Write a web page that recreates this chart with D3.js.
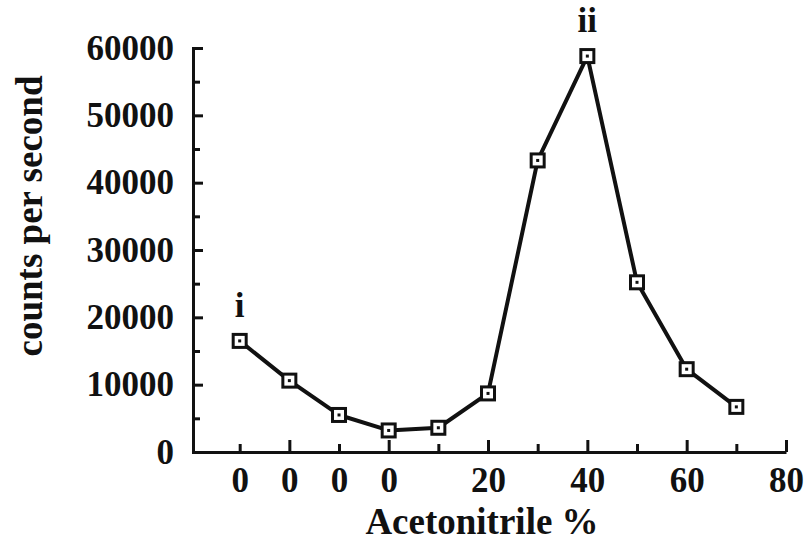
<!DOCTYPE html>
<html>
<head>
<meta charset="utf-8">
<script src="https://cdn.jsdelivr.net/npm/d3@7"></script>
<style>
	body { margin: 0 ; background: #fff ; }
	svg text { font-family: "Liberation Serif", "Times New Roman", serif ; font-weight: bold ; fill: #111 ; }
</style>
</head>
<body>
<svg id="chart" width="811" height="544"></svg>
<script>

// acetonitrile steps, as placed along the axis
const xValues = [ -30, -20, -10, 0, 10, 20, 30, 40, 50, 60, 70 ] ;
const counts = [ 16500, 10600, 5500, 3200, 3600, 8700, 43300, 58800, 25200, 12300, 6700 ] ;

// x axis labels (printed as in the figure) and tick positions
const xLabelValues = [ -30, -20, -10, 0, 20, 40, 60, 80 ] ;
const xLabels = [ "0", "0", "0", "0", "20", "40", "60", "80" ] ;
const xMajorTicks = [ -20, 0, 20, 40, 60, 80 ] ;
const xMinorTicks = [ -30, -10, 10, 30, 50, 70 ] ;

const yMajorTicks = [ 0, 10000, 20000, 30000, 40000, 50000, 60000 ] ;
const yMinorTicks = [ 5000, 15000, 25000, 35000, 45000, 55000 ] ;

// peak annotations
const notes = [ { x: -30, y: 16500, text: "i" }, { x: 40, y: 58800, text: "ii" } ] ;


const svg = d3.select( "#chart" ) ;

const x = d3.scaleLinear().domain( [ -39.4, 80 ] ).range( [ 193, 786 ] ) ;
const y = d3.scaleLinear().domain( [ 0, 60000 ] ).range( [ 452, 48 ] ) ;

function styleAxis( g ) {
	g.selectAll( "path, line" )
		.attr( "stroke", "#111" )
		.attr( "stroke-width", 3 ) ;
	g.selectAll( "text" )
		.attr( "fill", "#111" )
		.style( "font-size", "35px" ) ;
}

/*
	x axis: ticks pointing up into the plot, labels as a separate pass
*/
svg.append( "g" )
	.attr( "transform", "translate(0,452)" )
	.call( d3.axisBottom( x ).tickValues( xMajorTicks ).tickSize( -12 ).tickSizeOuter( 0 ).tickFormat( "" ) )
	.call( styleAxis ) ;

svg.append( "g" )
	.attr( "transform", "translate(0,452)" )
	.call( d3.axisBottom( x ).tickValues( xMinorTicks ).tickSize( -8 ).tickFormat( "" ) )
	.call( g => g.select( ".domain" ).remove() )
	.call( styleAxis ) ;

svg.append( "g" )
	.attr( "transform", "translate(0,452)" )
	.call( d3.axisBottom( x ).tickValues( xLabelValues ).tickSize( 0 ).tickPadding( 15 )
		.tickFormat( function(d,i) { return xLabels[i] ; } ) )
	.call( g => g.select( ".domain" ).remove() )
	.call( styleAxis ) ;

/*
	y axis: ticks pointing right, labels to the left
*/
svg.append( "g" )
	.attr( "transform", "translate(193,0)" )
	.call( d3.axisLeft( y ).tickValues( yMajorTicks ).tickSize( -10 ).tickSizeOuter( -10 ).tickPadding( 19 )
		.tickFormat( d3.format( "d" ) ) )
	.call( styleAxis ) ;

svg.append( "g" )
	.attr( "transform", "translate(193,0)" )
	.call( d3.axisLeft( y ).tickValues( yMinorTicks ).tickSize( -7 ).tickFormat( "" ) )
	.call( g => g.select( ".domain" ).remove() )
	.call( styleAxis ) ;

// axis titles
svg.append( "text" )
	.attr( "x", 482 )
	.attr( "y", 534 )
	.attr( "text-anchor", "middle" )
	.style( "font-size", "37px" )
	.text( "Acetonitrile %" ) ;

svg.append( "text" )
	.attr( "transform", "translate(42,216) rotate(-90)" )
	.attr( "text-anchor", "middle" )
	.style( "font-size", "37px" )
	.text( "counts per second" ) ;

/*
	the series: line, then boxed markers with a centre dot
*/
const pts = xValues.map( function(d,i) { return { x: d, y: counts[i] } ; } ) ;

svg.append( "path" )
	.datum( pts )
	.attr( "fill", "none" )
	.attr( "stroke", "#111" )
	.attr( "stroke-width", 4 )
	.attr( "stroke-linejoin", "round" )
	.attr( "d", d3.line().x( d => x(d.x) ).y( d => y(d.y) ) ) ;

const marks = svg.selectAll( "g.mark" )
	.data( pts )
	.enter().append( "g" )
		.attr( "class", "mark" )
		.attr( "transform", d => "translate(" + x(d.x) + "," + y(d.y) + ")" ) ;

marks.append( "rect" )
	.attr( "x", -6.5 ).attr( "y", -6.5 )
	.attr( "width", 13 ).attr( "height", 13 )
	.attr( "fill", "#fff" )
	.attr( "stroke", "#111" )
	.attr( "stroke-width", 3 ) ;

marks.append( "rect" )
	.attr( "x", -1.5 ).attr( "y", -1.5 )
	.attr( "width", 3 ).attr( "height", 3 )
	.attr( "fill", "#111" ) ;

svg.selectAll( "text.note" )
	.data( notes )
	.enter().append( "text" )
		.attr( "class", "note" )
		.attr( "x", d => x(d.x) )
		.attr( "y", d => y(d.y) - 24 )
		.attr( "text-anchor", "middle" )
		.style( "font-size", "35px" )
		.text( d => d.text ) ;

</script>
</body>
</html>
